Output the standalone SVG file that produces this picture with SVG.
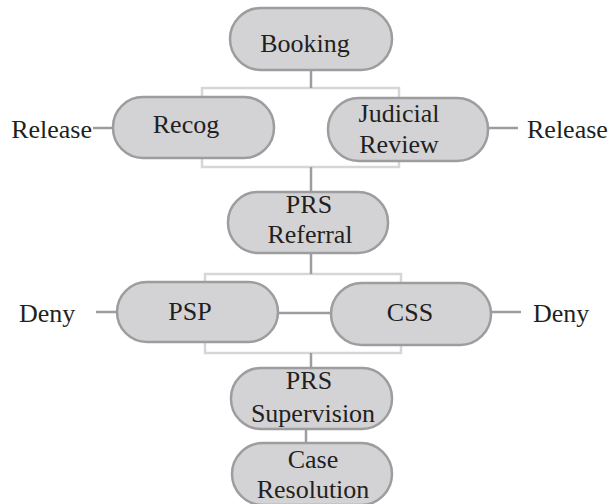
<svg xmlns="http://www.w3.org/2000/svg" width="609" height="504" viewBox="0 0 609 504">
<style>
.node{fill:#d3d3d5;stroke:#9d9d9f;stroke-width:2.5}
.t{font-size:26px;fill:#231f20;text-anchor:middle}
.lbl{font-size:26px;fill:#231f20}
.c{stroke:#9d9d9f;stroke-width:2.5;fill:none}
.br{stroke:#d6d6d6;stroke-width:2.5;fill:none}
</style>
<rect width="609" height="504" fill="#ffffff"/>
<g id="connectors">
<rect class="br" x="202" y="88" width="197" height="79"/>
<rect class="br" x="205" y="274" width="196" height="79"/>
<line class="c" x1="311" y1="70" x2="311" y2="88"/>
<line class="c" x1="311" y1="167" x2="311" y2="192"/>
<line class="c" x1="311" y1="253" x2="311" y2="274"/>
<line class="c" x1="311" y1="353" x2="311" y2="368"/>
<line class="c" x1="306" y1="429" x2="306" y2="443"/>
<line class="c" x1="93" y1="128" x2="113" y2="128"/>
<line class="c" x1="488" y1="128" x2="518" y2="128"/>
<line class="c" x1="96" y1="312" x2="117" y2="312"/>
<line class="c" x1="491" y1="312" x2="521" y2="312"/>
<line class="c" x1="278" y1="313" x2="331" y2="313"/>
</g>
<g font-family="Liberation Serif, Times New Roman, serif">
<g id="booking"><rect class="node" x="230" y="8" width="162" height="62" rx="31"/><text class="t" x="305" y="52">Booking</text></g>
<g id="recog"><rect class="node" x="113" y="97" width="161" height="61" rx="30"/><text class="t" x="186" y="133">Recog</text></g>
<g id="judicial"><rect class="node" x="328" y="98" width="160" height="63" rx="31"/><text class="t" x="399" y="122">Judicial</text><text class="t" x="399" y="153">Review</text></g>
<g id="prs-referral"><rect class="node" x="228" y="192" width="160" height="61" rx="30"/><text class="t" x="309" y="213">PRS</text><text class="t" x="310" y="243">Referral</text></g>
<g id="psp"><rect class="node" x="117" y="282" width="161" height="60" rx="30"/><text class="t" x="190" y="320">PSP</text></g>
<g id="css"><rect class="node" x="331" y="283" width="160" height="62" rx="31"/><text class="t" x="410" y="321">CSS</text></g>
<g id="prs-supervision"><rect class="node" x="231" y="368" width="161" height="61" rx="30"/><text class="t" x="309" y="389">PRS</text><text class="t" x="313" y="422">Supervision</text></g>
<g id="case-resolution"><rect class="node" x="232" y="443" width="160" height="62" rx="31"/><text class="t" x="313" y="468">Case</text><text class="t" x="313" y="498">Resolution</text></g>
<g id="release-left"><text class="lbl" x="92" y="138" text-anchor="end">Release</text></g>
<g id="release-right"><text class="lbl" x="527" y="138">Release</text></g>
<g id="deny-left"><text class="lbl" x="19" y="322">Deny</text></g>
<g id="deny-right"><text class="lbl" x="533" y="322">Deny</text></g>
</g>
</svg>
